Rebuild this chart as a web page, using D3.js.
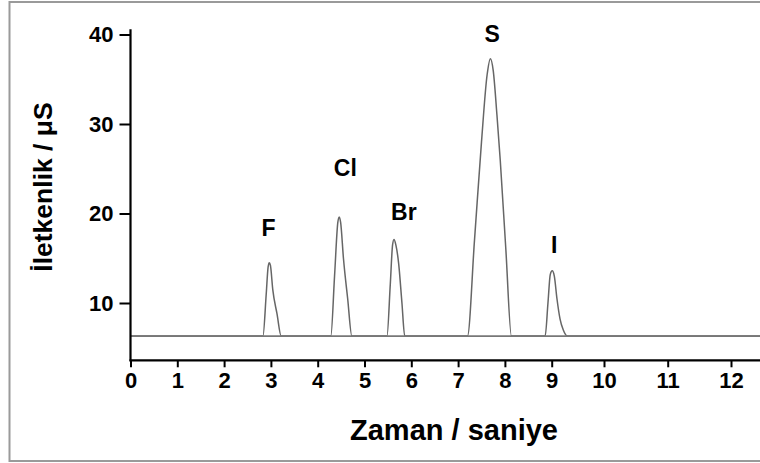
<!DOCTYPE html>
<html>
<head>
<meta charset="utf-8">
<script src="https://cdn.jsdelivr.net/npm/d3@7"></script>
<style>
  html, body { margin: 0; padding: 0; background: #fff; }
  svg { display: block; }
  text { font-family: "Liberation Sans", Arial, sans-serif; font-weight: bold; fill: #000; }
</style>
</head>
<body>
<svg id="chart" width="760" height="463"></svg>
<script>
// ---- data ----
const xTicks = [0, 1, 2, 3, 4, 5, 6, 7, 8, 9, 10, 11, 12];
const yTicks = [10, 20, 30, 40];
const xTitle = "Zaman / saniye";
const yTitle = "İletkenlik / μS";

// ions, peak label anchors (time, conductivity)
const ions = ["F", "Cl", "Br", "S", "I"];
const labelTime = [2.95, 4.59, 5.84, 7.73, 9.05];
const labelValue = [18.4, 25.1, 20.2, 40.1, 16.5];

// chromatogram trace: time (s) and conductivity (µS)
const traceTime = [
  0, 2.83, 2.90, 2.94, 2.965, 2.99, 3.04, 3.13, 3.22,
  4.28, 4.36, 4.43, 4.46, 4.49, 4.55, 4.64, 4.73,
  5.48, 5.55, 5.60, 5.63, 5.67, 5.73, 5.80, 5.86,
  7.20, 7.35, 7.50, 7.62, 7.69, 7.75, 7.83, 7.90, 8.02, 8.14,
  8.86, 8.92, 8.97, 9.01, 9.05, 9.10, 9.16, 9.22, 9.30,
  13.5
];
const traceSignal = [
  6.3, 6.3, 11.0, 14.0, 14.5, 14.2, 11.5, 8.8, 6.3,
  6.3, 13.0, 19.0, 19.6, 19.0, 15.0, 10.5, 6.3,
  6.3, 12.0, 16.5, 17.1, 16.5, 14.4, 10.0, 6.3,
  6.3, 17.0, 28.0, 35.5, 37.3, 36.0, 31.0, 26.0, 16.0, 6.3,
  6.3, 10.0, 13.2, 13.6, 13.0, 10.5, 8.2, 7.0, 6.3,
  6.3
];
const baselineValue = 6.3;

// ---- layout ----
const W = 760, H = 463;
const svg = d3.select("#chart");

// frame
svg.append("rect")
  .attr("x", 9.5).attr("y", 2).attr("width", 770).attr("height", 459)
  .attr("fill", "none").attr("stroke", "#9a9a9a").attr("stroke-width", 2);

// scales (the original time axis is slightly stretched past 9 s)
const x = d3.scaleLinear()
  .domain([0, 9, 10, 11, 12])
  .range([130.5, 551.7, 604, 667.7, 731]);
const y = d3.scaleLinear().domain([10, 40]).range([303, 34.5]);

const yBottom = 3.6, yTop = 40.6;
const axisY = y(yBottom);

// trace
const line = d3.line()
  .x((d, i) => x(traceTime[i]))
  .y((d, i) => y(traceSignal[i]))
  .curve(d3.curveMonotoneX);

svg.append("path")
  .datum(traceSignal)
  .attr("d", line)
  .attr("fill", "none")
  .attr("stroke", "#666")
  .attr("stroke-width", 1.5);

// baseline emphasis
svg.append("line")
  .attr("x1", x(0)).attr("x2", W)
  .attr("y1", y(baselineValue)).attr("y2", y(baselineValue))
  .attr("stroke", "#777").attr("stroke-width", 1.6);

// x axis
const xAxis = d3.axisBottom(x).tickValues(xTicks).tickSize(7).tickPadding(5).tickFormat(d3.format("d"));
const gx = svg.append("g").attr("transform", `translate(0,${axisY})`).call(xAxis);
gx.select(".domain").remove();
gx.append("line").attr("x1", x(0) - 1).attr("x2", W).attr("y1", 0).attr("y2", 0)
  .attr("stroke", "#000").attr("stroke-width", 2.2);
gx.selectAll(".tick line").attr("stroke", "#000").attr("stroke-width", 2);
gx.selectAll(".tick text").style("font-size", "22px").attr("fill", "#000");

// y axis
const yAxis = d3.axisLeft(y).tickValues(yTicks).tickSize(11).tickPadding(6);
const gy = svg.append("g").attr("transform", `translate(${x(0)},0)`).call(yAxis);
gy.select(".domain").remove();
gy.append("line").attr("x1", 0).attr("x2", 0).attr("y1", y(yTop)).attr("y2", axisY + 1)
  .attr("stroke", "#000").attr("stroke-width", 2.2);
gy.selectAll(".tick line").attr("stroke", "#000").attr("stroke-width", 2);
gy.selectAll(".tick text").style("font-size", "22px").attr("fill", "#000");

// peak labels
svg.append("g").selectAll("text")
  .data(ions)
  .join("text")
  .attr("x", (d, i) => x(labelTime[i]))
  .attr("y", (d, i) => y(labelValue[i]))
  .attr("text-anchor", "middle")
  .attr("dominant-baseline", "central")
  .style("font-size", "23px")
  .text(d => d);

// axis titles
svg.append("text")
  .attr("x", 454).attr("y", 430)
  .attr("text-anchor", "middle")
  .attr("dominant-baseline", "central")
  .style("font-size", "29px")
  .text(xTitle);

svg.append("text")
  .attr("transform", "translate(43,187) rotate(-90)")
  .attr("text-anchor", "middle")
  .attr("dominant-baseline", "central")
  .style("font-size", "26.5px")
  .text(yTitle);
</script>
</body>
</html>
